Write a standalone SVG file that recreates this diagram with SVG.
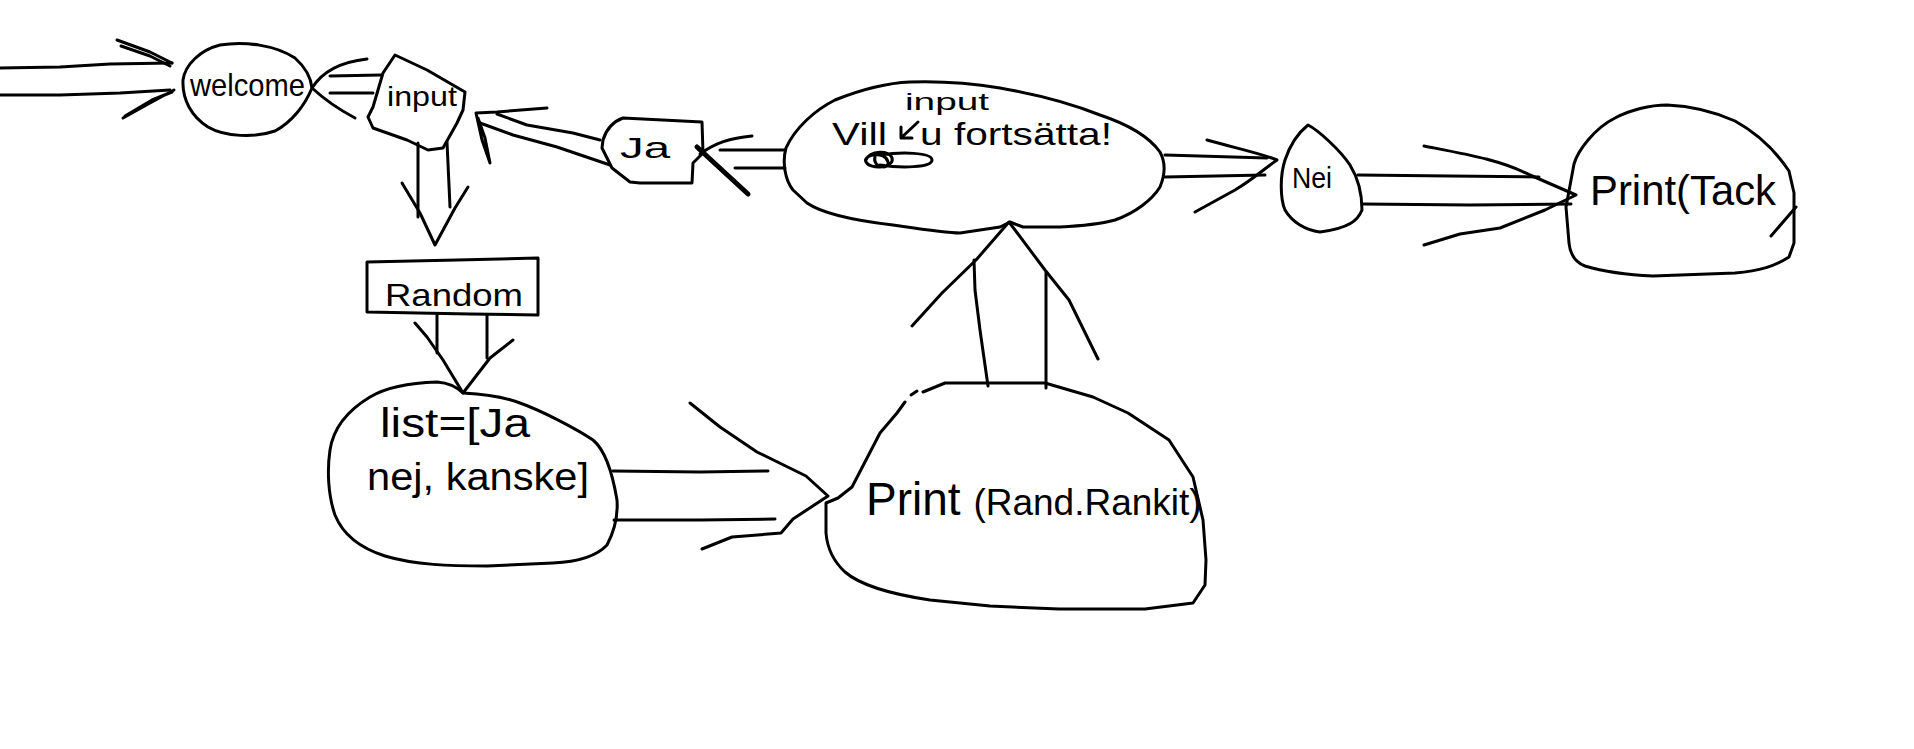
<svg xmlns="http://www.w3.org/2000/svg" width="1914" height="749" viewBox="0 0 1914 749">
<style>
.s{fill:none;stroke:#000;stroke-width:3;stroke-linecap:round;stroke-linejoin:round}
.t{font-family:"Liberation Sans",Arial,sans-serif;fill:#000}
</style>
<rect width="1914" height="749" fill="#fff"/>
<g id="connectors" class="s">
  <path d="M0,68 L60,67 L110,64 L172,63 M0,95 L60,95 L120,93 L170,90"/>
  <path d="M117,40 L150,52 L172,63 M121,46 L150,56 L170,66"/>
  <path d="M123,118 L150,103 L174,90 M125,116 L152,100 L172,92"/>
  <path d="M381,75 L330,76 M373,93 L330,93"/>
  <path d="M367,59 C340,62 322,72 312,88 C325,100 340,110 355,118"/>
  <path d="M418,143 L418,217 M447,142 L450,207"/>
  <path d="M402,183 L420,213 L435,245 L455,208 L468,187"/>
  <path d="M437,315 L437,353 M487,315 L487,358"/>
  <path d="M415,323 L427,337 L443,360 L463,393 L490,358 L513,340"/>
  <path d="M613,471 L700,472 L768,471 M614,520 L700,520 L775,519"/>
  <path d="M690,403 L720,427 L757,452 L806,476 L828,496 L793,519 L781,533 L732,537 L702,549"/>
  <path d="M988,386 L980,330 L975,290 L974,260 M1046,388 L1046,272"/>
  <path d="M912,326 L942,293 L976,260 L1009,222 L1045,270 L1069,300 L1098,359"/>
  <path d="M785,150 L720,150 M785,168 L735,168"/>
  <path d="M752,136 C730,138 715,143 700,154"/>
  <path d="M697,147 L748,194" stroke-width="5"/>
  <path d="M600,140 L573,133 L527,125 L497,114 M610,165 L557,147 L513,135 L480,123"/>
  <path d="M547,108 L497,112 L476,113 L482,140 L490,163 L485,138 L478,118"/>
  <path d="M1165,155 L1267,158 M1165,177 L1265,175"/>
  <path d="M1207,140 C1235,148 1260,153 1277,160 C1265,168 1255,178 1235,190 L1195,212"/>
  <path d="M1358,175 L1450,176 L1539,177 M1362,204 L1470,205 L1571,204"/>
  <path d="M1424,146 C1470,155 1500,160 1530,175 L1576,195 L1545,210 L1500,228 L1460,234 L1424,245"/>
</g>
<g id="welcome">
  <path class="s" d="M183,80 C185,65 200,50 220,45 C245,41 275,45 295,58 C305,67 311,78 312,88 C305,105 292,122 275,131 C255,138 225,137 208,127 C192,117 182,100 183,80 Z"/>
  <text class="t" x="190" y="96" font-size="32" textLength="115" lengthAdjust="spacingAndGlyphs">welcome</text>
</g>
<g id="input">
  <path class="s" d="M395,55 L427,70 L465,92 L463,110 L457,123 L443,148 L428,150 L407,140 L373,128 L368,117 L373,107 L383,73 Z"/>
  <text class="t" x="387" y="106" font-size="28" textLength="70" lengthAdjust="spacingAndGlyphs">input</text>
</g>
<g id="random">
  <path class="s" d="M367,262 L457,260 L538,258 L538,315 L470,314 L367,312 Z"/>
  <text class="t" x="385" y="306" font-size="32" textLength="138" lengthAdjust="spacingAndGlyphs">Random</text>
</g>
<g id="list">
  <path class="s" d="M463,393 C480,394 505,397 520,403 C540,410 575,428 593,440 C605,450 612,470 617,500 C618,515 615,530 607,545 C595,558 575,562 553,563 L487,566 C450,566 415,565 385,556 C360,548 343,535 335,515 C328,495 327,470 330,450 C333,430 345,412 370,397 C385,388 405,383 437,382 C450,383 458,388 463,393 Z"/>
  <text class="t" x="380" y="437" font-size="40" textLength="150" lengthAdjust="spacingAndGlyphs">list=[Ja</text>
  <text class="t" x="367" y="490" font-size="38" textLength="222" lengthAdjust="spacingAndGlyphs">nej, kanske]</text>
</g>
<g id="print">
  <path class="s" d="M911,395 L917,391"/>
  <path class="s" d="M923,392 L945,383 L1045,383 L1093,397 L1128,413 L1169,440 L1193,477 L1203,520 L1206,560 L1205,585 L1193,603 L1145,609 L1059,609 L990,606 L930,600 C890,594 860,585 845,572 C832,560 827,545 826,533 L826,503 L838,498 L852,487 L866,460 L880,433 L897,413 L905,402"/>
  <text class="t" x="866" y="515"><tspan font-size="46">Print </tspan><tspan font-size="37">(Rand.Rankit)</tspan></text>
</g>
<g id="villu">
  <path class="s" d="M807,203 C820,212 850,220 893,225 C920,229 945,233 960,233 L1000,227 L1010,222 L1023,227 L1060,227 C1080,226 1100,224 1115,220 C1135,213 1152,200 1160,187 C1165,175 1166,163 1160,152 C1150,138 1130,125 1100,115 C1075,105 1040,95 1000,88 C970,83 940,81 910,82 C885,83 860,90 835,100 C815,110 795,128 786,148 C782,162 785,180 793,190 Z"/>
  <text class="t" x="905" y="110" font-size="24" textLength="84" lengthAdjust="spacingAndGlyphs">input</text>
  <path class="s" d="M918,122 L901,138 M901,127 L901,138 L912,138"/>
  <text class="t" x="832" y="145" font-size="32" textLength="55" lengthAdjust="spacingAndGlyphs">Vill</text>
  <text class="t" x="920" y="145" font-size="32" textLength="192" lengthAdjust="spacingAndGlyphs">u fortsätta!</text>
  <path class="s" d="M866,160 C870,150 890,150 892,158 C895,168 870,170 866,162 C862,155 885,150 888,162 C890,170 872,168 875,157 M880,155 C900,152 932,152 932,160 C932,168 900,168 880,165" stroke-width="4"/>
</g>
<g id="ja">
  <path class="s" d="M603,140 C606,130 612,122 623,118 L702,122 L703,153 L693,163 L692,183 L640,183 L630,182 L612,168 L602,148 Z"/>
  <text class="t" x="620" y="158" font-size="30" textLength="50" lengthAdjust="spacingAndGlyphs">Ja</text>
</g>
<g id="nei">
  <path class="s" d="M1308,125 C1318,130 1340,150 1350,165 C1358,178 1362,195 1362,210 C1358,220 1350,228 1320,232 C1305,230 1292,222 1285,210 C1280,198 1280,175 1285,160 C1290,145 1298,133 1308,125 Z"/>
  <text class="t" x="1292" y="188" font-size="30" textLength="40" lengthAdjust="spacingAndGlyphs">Nei</text>
</g>
<g id="tack">
  <path class="s" d="M1574,164 C1578,150 1595,128 1615,118 C1630,110 1650,105 1667,105 C1690,106 1715,112 1735,121 C1755,132 1775,150 1789,171 L1794,193 L1794,243 L1789,257 C1775,266 1760,271 1735,273 L1653,276 C1630,275 1605,272 1585,266 C1574,262 1570,252 1569,243 L1566,207 Z"/>
  <path class="s" d="M1796,207 L1771,236"/>
  <text class="t" x="1590" y="205" font-size="42" textLength="186" lengthAdjust="spacingAndGlyphs">Print(Tack</text>
</g>
</svg>
